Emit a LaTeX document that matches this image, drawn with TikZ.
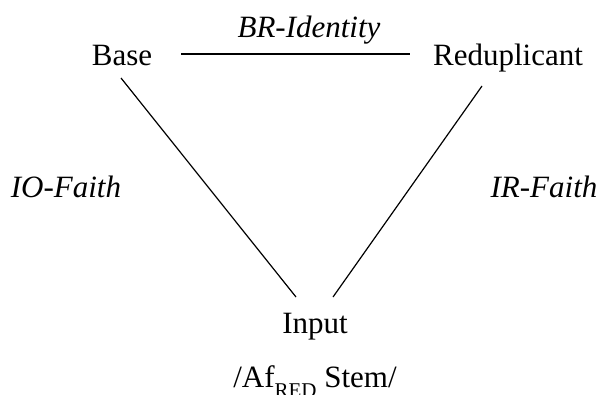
\documentclass[tikz,border=0pt]{standalone}
\usepackage{fontspec}
\setmainfont{Liberation Serif}
\begin{document}
\begin{tikzpicture}[x=1pt,y=-1pt,
  term/.style={inner sep=0pt, outer sep=0pt, anchor=base,
    font=\fontsize{31}{37}\selectfont, text height=21pt, text depth=7pt},
  constraint/.style={term, font=\fontsize{31}{37}\selectfont\itshape},
  edge/.style={line width=1.2pt}]
\useasboundingbox (0,0) rectangle (602,394);

% correspondence terms
\node[term] (base)  at (122,65)  {Base};
\node[term] (red)   at (508,65)  {Reduplicant};
\node[term] (input) at (315,333) {Input};
\node[term] (form)  at (315,387) {/Af\raisebox{-10pt}{\fontsize{21}{21}\selectfont RED} Stem/};

% constraint labels
\node[constraint] (br) at (309,37)  {BR-Identity};
\node[constraint] (io) at (66,197)  {IO-Faith};
\node[constraint] (ir) at (544,197) {IR-Faith};

% correspondence relations
\draw[edge] ([xshift=29pt,yshift=4pt]base.east) -- ([xshift=-23pt,yshift=4pt]red.west);
\draw[edge] ([xshift=-1pt,yshift=-6pt]base.south) -- ([xshift=-19pt,yshift=15pt]input.north);
\draw[edge] ([xshift=-26pt,yshift=-14pt]red.south) -- ([xshift=18pt,yshift=15pt]input.north);
\end{tikzpicture}
\end{document}
